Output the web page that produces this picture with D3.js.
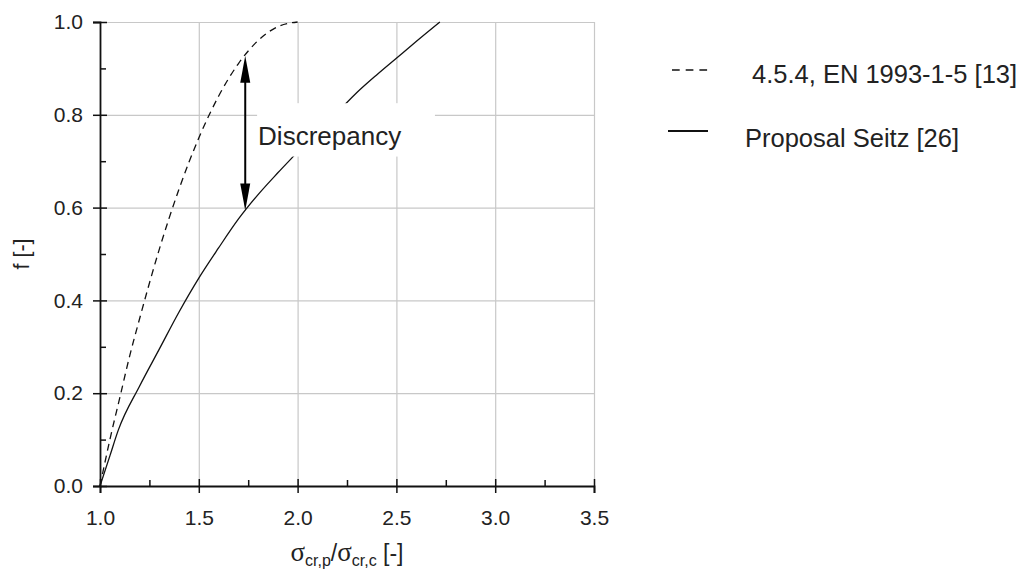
<!DOCTYPE html>
<html>
<head>
<meta charset="utf-8">
<script src="https://cdn.jsdelivr.net/npm/d3@7/dist/d3.min.js"></script>
<style>
  body { margin: 0; background: #fff; }
  svg { font-family: "Liberation Sans", Arial, sans-serif; }
  text { fill: #222; }
</style>
</head>
<body>
<svg id="vis" width="1030" height="572"></svg>
<script>
// curve values
var ratioEN = [1.0, 1.05, 1.1, 1.15, 1.2, 1.3, 1.4, 1.5, 1.6, 1.7, 1.8, 1.9, 2.0];
var fEN     = [0.0, 0.10, 0.19, 0.28, 0.36, 0.51, 0.64, 0.75, 0.84, 0.91, 0.96, 0.99, 1.0];

var ratioSeitz = [1.0, 1.05, 1.093, 1.2, 1.3, 1.4, 1.5, 1.6, 1.7, 1.8, 1.9, 2.0, 2.1, 2.2, 2.3, 2.4, 2.5, 2.6, 2.72];
var fSeitz     = [0.0, 0.065, 0.121, 0.215, 0.295, 0.375, 0.448, 0.513, 0.575, 0.628, 0.675, 0.72, 0.765, 0.805, 0.848, 0.886, 0.922, 0.958, 1.0];

var xMajor = [1.0, 1.5, 2.0, 2.5, 3.0, 3.5];
var xMinor = [1.25, 1.75, 2.25, 2.75, 3.25];
var yMajor = [0.0, 0.2, 0.4, 0.6, 0.8, 1.0];
var yMinor = [0.1, 0.3, 0.5, 0.7, 0.9];

var legendLabels = ["4.5.4, EN 1993-1-5 [13]", "Proposal Seitz [26]"];
var arrowRatio = 1.735;

var plot = { left: 100, right: 594, top: 22, bottom: 486 };

var svg = d3.select("#vis");

var x = d3.scaleLinear().domain([1.0, 3.5]).range([plot.left, plot.right]);
var y = d3.scaleLinear().domain([0.0, 1.0]).range([plot.bottom, plot.top]);

// grid
var gridX = svg.append("g")
    .attr("transform", "translate(0," + plot.bottom + ")")
    .call(d3.axisBottom(x).tickValues(xMajor.slice(1)).tickSize(-(plot.bottom - plot.top)).tickFormat(""));
var gridY = svg.append("g")
    .attr("transform", "translate(" + plot.left + ",0)")
    .call(d3.axisLeft(y).tickValues(yMajor.slice(1)).tickSize(-(plot.right - plot.left)).tickFormat(""));
[gridX, gridY].forEach(function (g) {
    g.select(".domain").remove();
    g.selectAll("line").attr("stroke", "#c8c8c8").attr("stroke-width", 1.2);
});

var line = d3.line()
    .x(function (d) { return x(d[0]); })
    .y(function (d) { return y(d[1]); })
    .curve(d3.curveMonotoneX);

var enData = ratioEN.map(function (r, i) { return [r, fEN[i]]; });
var seitzData = ratioSeitz.map(function (r, i) { return [r, fSeitz[i]]; });

svg.append("path")
    .datum(enData)
    .attr("d", line)
    .attr("fill", "none")
    .attr("stroke", "#111")
    .attr("stroke-width", 1.3)
    .attr("stroke-dasharray", "7,5");

svg.append("path")
    .datum(seitzData)
    .attr("d", line)
    .attr("fill", "none")
    .attr("stroke", "#111")
    .attr("stroke-width", 1.3);

// white box behind the label
svg.append("rect")
    .attr("x", x(1.795))
    .attr("y", y(0.825))
    .attr("width", x(2.695) - x(1.795))
    .attr("height", y(0.71) - y(0.825))
    .attr("fill", "#fff");

svg.append("text")
    .attr("x", x(1.8))
    .attr("y", y(0.735))
    .attr("font-size", 26)
    .text("Discrepancy");

// double arrow between the two curves
var arrowTop = y(d3.interpolateNumber(0.91, 0.96)((arrowRatio - 1.7) / 0.1));
var arrowBot = y(d3.interpolateNumber(0.575, 0.628)((arrowRatio - 1.7) / 0.1));
var ax = x(arrowRatio);
var headL = 27, headW = 5;
svg.append("line")
    .attr("x1", ax).attr("x2", ax)
    .attr("y1", arrowTop + headL - 2).attr("y2", arrowBot - headL + 2)
    .attr("stroke", "#000").attr("stroke-width", 2);
svg.append("path")
    .attr("d", "M" + ax + "," + arrowTop + "L" + (ax + headW) + "," + (arrowTop + headL) + "L" + (ax - headW) + "," + (arrowTop + headL) + "Z")
    .attr("fill", "#000");
svg.append("path")
    .attr("d", "M" + ax + "," + arrowBot + "L" + (ax + headW) + "," + (arrowBot - headL) + "L" + (ax - headW) + "," + (arrowBot - headL) + "Z")
    .attr("fill", "#000");

// axes
var xAxis = svg.append("g")
    .attr("transform", "translate(0," + plot.bottom + ")")
    .call(d3.axisBottom(x).tickValues(xMajor).tickSize(7).tickPadding(17).tickFormat(d3.format(".1f")));
xAxis.selectAll(".tick line").attr("y1", -7);

var xMinorAxis = svg.append("g")
    .attr("transform", "translate(0," + plot.bottom + ")")
    .call(d3.axisBottom(x).tickValues(xMinor).tickSize(-6).tickFormat(""));
xMinorAxis.select(".domain").remove();

var yAxis = svg.append("g")
    .attr("transform", "translate(" + plot.left + ",0)")
    .call(d3.axisLeft(y).tickValues(yMajor).tickSize(7).tickPadding(10).tickFormat(d3.format(".1f")));
yAxis.selectAll(".tick line").attr("x1", 7);

var yMinorAxis = svg.append("g")
    .attr("transform", "translate(" + plot.left + ",0)")
    .call(d3.axisLeft(y).tickValues(yMinor).tickSize(-6).tickFormat(""));
yMinorAxis.select(".domain").remove();

[xAxis, yAxis, xMinorAxis, yMinorAxis].forEach(function (g) {
    g.select(".domain").attr("stroke", "#111").attr("stroke-width", 1.8);
    g.selectAll(".tick line").attr("stroke", "#111").attr("stroke-width", 1.5);
    g.selectAll(".tick text")
        .attr("font-size", 21)
        .attr("font-family", "Liberation Sans, Arial, sans-serif")
        .attr("fill", "#222");
});

// axis titles
svg.append("text")
    .attr("transform", "translate(29," + ((plot.top + plot.bottom) / 2) + ") rotate(-90)")
    .attr("text-anchor", "middle")
    .attr("font-size", 21.5)
    .text("f [-]");

var xt = svg.append("text")
    .attr("x", (plot.left + plot.right) / 2)
    .attr("y", 561)
    .attr("text-anchor", "middle")
    .attr("font-size", 23);
xt.append("tspan").attr("font-family", "Liberation Serif, serif").attr("font-size", 27).text("σ");
xt.append("tspan").attr("font-size", 16).attr("dy", 5).text("cr,p");
xt.append("tspan").attr("dy", -5).text("/");
xt.append("tspan").attr("font-family", "Liberation Serif, serif").attr("font-size", 27).text("σ");
xt.append("tspan").attr("font-size", 16).attr("dy", 5).text("cr,c");
xt.append("tspan").attr("dy", -5).text(" [-]");

// legend
var legend = svg.append("g");
legend.append("line")
    .attr("x1", 672).attr("x2", 708).attr("y1", 70).attr("y2", 70)
    .attr("stroke", "#111").attr("stroke-width", 1.5).attr("stroke-dasharray", "7.7,6");
legend.append("text")
    .attr("x", 752).attr("y", 83).attr("font-size", 25.5)
    .text(legendLabels[0]);
legend.append("line")
    .attr("x1", 668).attr("x2", 708).attr("y1", 131).attr("y2", 131)
    .attr("stroke", "#111").attr("stroke-width", 1.8);
legend.append("text")
    .attr("x", 745).attr("y", 147).attr("font-size", 25.5)
    .text(legendLabels[1]);
</script>
</body>
</html>
